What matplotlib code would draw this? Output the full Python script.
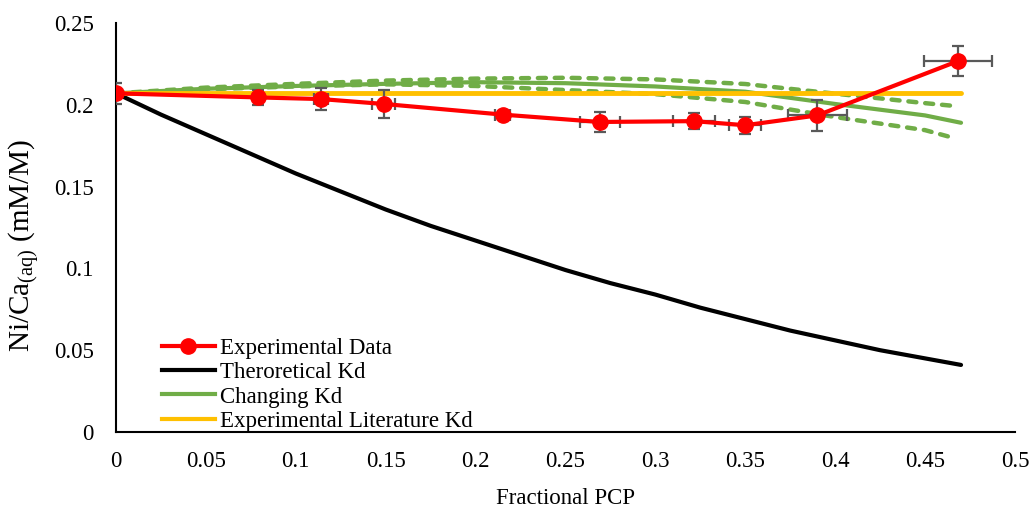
import matplotlib
matplotlib.use("Agg")
import matplotlib.pyplot as plt
from matplotlib.lines import Line2D

plt.rcParams["font.family"] = ["Liberation Serif", "DejaVu Serif"]
plt.rcParams["mathtext.fontset"] = "custom"
plt.rcParams["mathtext.rm"] = "Liberation Serif"
plt.rcParams["mathtext.it"] = "Liberation Serif:italic"

# Measured Ni/Ca ratios with uncertainties
exp_x = [0.0, 0.079, 0.114, 0.149, 0.215, 0.269, 0.3215, 0.350, 0.390, 0.4685]
exp_y = [0.207, 0.2045, 0.2035, 0.2005, 0.194, 0.1895, 0.190, 0.1875, 0.1935, 0.2268]
exp_yerr = [0.0065, 0.0046, 0.0067, 0.0087, 0.002, 0.006, 0.005, 0.0053, 0.0094, 0.0094]
exp_xerr = [0.0, 0.0, 0.004, 0.0064, 0.0044, 0.0112, 0.0116, 0.009, 0.0165, 0.0189]

# Model curves
theo_x = [0.0, 0.025, 0.05, 0.075, 0.1, 0.125, 0.15, 0.175, 0.2, 0.225,
          0.25, 0.275, 0.3, 0.325, 0.35, 0.375, 0.4, 0.425, 0.45, 0.47]
theo_y = [0.207, 0.194, 0.182, 0.170, 0.158, 0.147, 0.136, 0.126, 0.117, 0.108,
          0.099, 0.091, 0.084, 0.076, 0.069, 0.062, 0.056, 0.050, 0.045, 0.041]

chg_x = [0.0, 0.05, 0.1, 0.15, 0.2, 0.25, 0.3, 0.35, 0.4, 0.45, 0.47]
chg_y = [0.207, 0.2098, 0.2115, 0.2128, 0.2138, 0.2132, 0.2112, 0.208, 0.2005, 0.1935, 0.189]

chg_hi_x = [0.0, 0.05, 0.1, 0.15, 0.2, 0.25, 0.3, 0.35, 0.4, 0.45, 0.467]
chg_hi_y = [0.207, 0.2105, 0.2128, 0.2148, 0.216, 0.2165, 0.2155, 0.2127, 0.2068, 0.201, 0.1992]

chg_lo_x = [0.0, 0.05, 0.1, 0.15, 0.2, 0.25, 0.3, 0.35, 0.4, 0.45, 0.465]
chg_lo_y = [0.207, 0.2095, 0.2112, 0.2125, 0.2115, 0.209, 0.2065, 0.2017, 0.1925, 0.1845, 0.180]

lit_x = [0.0, 0.47]
lit_y = [0.207, 0.207]

x_ticks = [0, 0.05, 0.1, 0.15, 0.2, 0.25, 0.3, 0.35, 0.4, 0.45, 0.5]
x_tick_labels = ["0", "0.05", "0.1", "0.15", "0.2", "0.25", "0.3", "0.35", "0.4", "0.45", "0.5"]
y_ticks = [0, 0.05, 0.1, 0.15, 0.2, 0.25]
y_tick_labels = ["0", "0.05", "0.1", "0.15", "0.2", "0.25"]

RED = "#FF0000"
GREEN = "#70AD47"
YELLOW = "#FFC000"
FS = 16.5

fig = plt.figure(figsize=(10.34, 5.14), dpi=100)
ax = fig.add_axes([0.1122, 0.1595, 0.8694, 0.7958])

ax.plot(theo_x, theo_y, color="black", lw=3, solid_capstyle="round", zorder=2)
dash = dict(color=GREEN, lw=3.2, linestyle=(0, (1.8, 2.0)), dash_capstyle="round", zorder=3)
ax.plot(chg_hi_x, chg_hi_y, **dash)
ax.plot(chg_lo_x, chg_lo_y, **dash)
ax.plot(chg_x, chg_y, color=GREEN, lw=3, solid_capstyle="round", zorder=3)
ax.plot(lit_x, lit_y, color=YELLOW, lw=3.5, solid_capstyle="round", zorder=4)

ax.errorbar(exp_x, exp_y, yerr=exp_yerr, xerr=exp_xerr, fmt="none",
            ecolor="#595959", elinewidth=1.6, capsize=4.5, capthick=1.6, zorder=5)
ax.plot(exp_x, exp_y, color=RED, lw=3, marker="o", markersize=11,
        markerfacecolor=RED, markeredgecolor=RED, zorder=6)

ax.set_xlim(0, 0.5)
ax.set_ylim(0, 0.25)
ax.set_xticks(x_ticks)
ax.set_xticklabels(x_tick_labels)
ax.set_yticks(y_ticks)
ax.set_yticklabels(y_tick_labels)
ax.tick_params(length=0, labelsize=FS)
ax.tick_params(axis="x", pad=14)
ax.tick_params(axis="y", pad=16)
for s in ("top", "right"):
    ax.spines[s].set_visible(False)
for s in ("left", "bottom"):
    ax.spines[s].set_linewidth(1.5)
    ax.spines[s].set_color("black")

ax.set_xlabel("Fractional PCP", fontsize=FS, labelpad=11)
ax.set_ylabel(r"Ni/Ca$_{\mathrm{(aq)}}$ (mM/M)", fontsize=21)
ax.yaxis.set_label_coords(-0.083, 0.457)

handles = [
    Line2D([], [], color=RED, lw=3, marker="o", markersize=11),
    Line2D([], [], color="black", lw=3),
    Line2D([], [], color=GREEN, lw=3),
    Line2D([], [], color=YELLOW, lw=3),
]
labels = ["Experimental Data", "Theroretical Kd", "Changing Kd", "Experimental Literature Kd"]
fig.legend(handles, labels, loc="lower left", bbox_to_anchor=(0.1567, 0.160),
           frameon=False, fontsize=FS, handlelength=2.3, handletextpad=0.25,
           labelspacing=0.14, borderaxespad=0, borderpad=0)

fig.savefig("out.png", dpi=100)
